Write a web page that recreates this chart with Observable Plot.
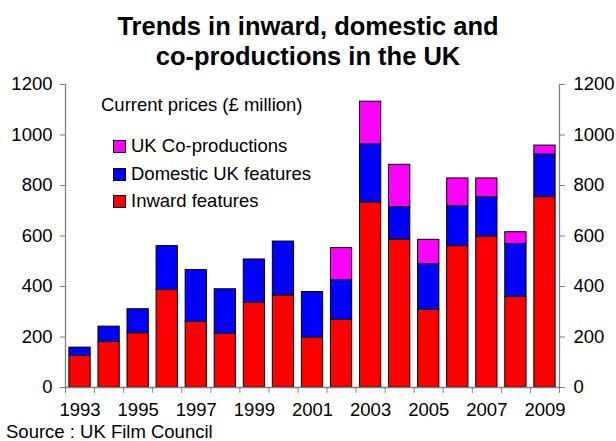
<!DOCTYPE html>
<html>
<head>
<meta charset="utf-8">
<script src="https://cdn.jsdelivr.net/npm/d3@7"></script>
<script src="https://cdn.jsdelivr.net/npm/@observablehq/plot@0.6"></script>
<style>
  html, body { margin: 0; padding: 0; background: #fff; }
  body { width: 616px; height: 441px; overflow: hidden; font-family: "Liberation Sans", Arial, sans-serif; color: #000; position: relative; }
  #title { height: 72px; box-sizing: border-box; padding-top: 11px; text-align: center; font-weight: bold; font-size: 25.5px; line-height: 30px; }
  #chart { height: 350px; }
  #source { font-size: 18.5px; line-height: 20px; padding-left: 6px; }
  #legend { position: absolute; left: 101px; top: 0; font-size: 18.5px; }
  .lg-title { position: absolute; left: 0; top: 94px; white-space: nowrap; line-height: 22px; }
  .lg-item { position: absolute; left: 12px; white-space: nowrap; line-height: 22px; }
  .lg-sw { display: inline-block; width: 11px; height: 11px; border: 1px solid #000; margin-right: 5px; vertical-align: -1px; }
</style>
</head>
<body>
<div id="title">Trends in inward, domestic and<br>co-productions in the UK</div>
<div id="chart"></div>
<div id="source">Source : UK Film Council</div>
<div id="legend"></div>
<script>
const years = [1993, 1994, 1995, 1996, 1997, 1998, 1999, 2000, 2001, 2002, 2003, 2004, 2005, 2006, 2007, 2008, 2009];
const inward = [125, 180, 215, 386, 260, 212, 336, 365, 198, 268, 733, 586, 308, 560, 598, 359, 754];
const domestic = [33, 61, 95, 174, 205, 177, 171, 213, 180, 157, 230, 128, 180, 158, 155, 209, 169];
const coproductions = [0, 0, 0, 0, 0, 0, 0, 0, 0, 127, 169, 168, 97, 110, 75, 47, 35];
const seriesNames = ["Inward features", "Domestic UK features", "UK Co-productions"];
const seriesColors = ["#ff0000", "#0000ff", "#ff00ff"];
const yTicks = [0, 200, 400, 600, 800, 1000, 1200];
const labelYears = [1993, 1995, 1997, 1999, 2001, 2003, 2005, 2007, 2009];
const legendOrder = ["UK Co-productions", "Domestic UK features", "Inward features"];
const unitsLabel = "Current prices (£ million)";

const seriesValues = [inward, domestic, coproductions];
const data = [];
seriesNames.forEach((name, i) => {
  years.forEach((year, j) => data.push({year, series: name, value: seriesValues[i][j]}));
});

const gray = "#808080";
const plot = Plot.plot({
  width: 616,
  height: 350,
  marginTop: 12,
  marginLeft: 65,
  marginRight: 57,
  marginBottom: 35,
  style: {fontFamily: "'Liberation Sans', Arial, sans-serif", fontSize: "18.5px", color: "#000", background: "#fff", overflow: "visible"},
  x: {type: "linear", domain: [years[0], years[years.length - 1] + 1]},
  y: {domain: [0, 1200]},
  color: {domain: seriesNames, range: seriesColors},
  marks: [
    Plot.rectY(data, {x: "year", interval: 1, y: "value", fill: "series", stroke: "#000", strokeWidth: 1, insetLeft: 3.9, insetRight: 3.9}),
    Plot.ruleX([years[0], years[years.length - 1] + 1], {stroke: gray, strokeWidth: 1.3}),
    Plot.ruleY([0], {stroke: gray, strokeWidth: 1.3}),
    Plot.axisY({anchor: "left", ticks: yTicks, tickSize: 5, tickPadding: 8, stroke: gray, fill: "#000", label: null, tickFormat: d => String(d)}),
    Plot.axisY({anchor: "right", ticks: yTicks, tickSize: 5, tickPadding: 9, stroke: gray, fill: "#000", label: null, tickFormat: d => String(d)}),
    Plot.axisX({ticks: d3.range(years[0], years[years.length - 1] + 2), tickSize: 6, stroke: gray, tickFormat: () => "", label: null}),
    Plot.axisX(labelYears.map(y => y + 0.5), {tickSize: 0, tickPadding: 15, fill: "#000", tickFormat: d => String(d - 0.5), label: null})
  ]
});
document.getElementById("chart").appendChild(plot);

const legend = document.getElementById("legend");
const t = document.createElement("div");
t.className = "lg-title";
t.textContent = unitsLabel;
legend.appendChild(t);
legendOrder.forEach((name, i) => {
  const row = document.createElement("div");
  row.className = "lg-item";
  row.style.top = (135 + i * 27.5) + "px";
  const sw = document.createElement("span");
  sw.className = "lg-sw";
  sw.style.background = seriesColors[seriesNames.indexOf(name)];
  row.appendChild(sw);
  row.appendChild(document.createTextNode(name));
  legend.appendChild(row);
});
</script>
</body>
</html>
